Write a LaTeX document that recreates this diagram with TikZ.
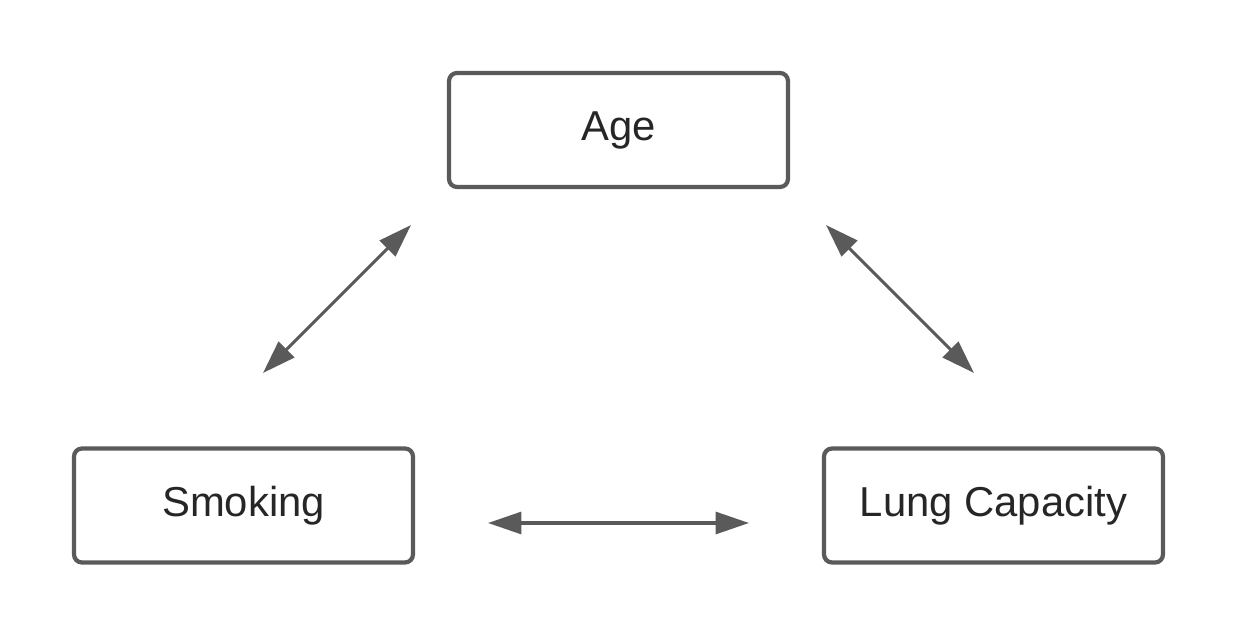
\documentclass[tikz,border=0pt]{standalone}
\usepackage{fontspec}
\setmainfont{Liberation Sans}
\usepackage{tikz}
\usetikzlibrary{arrows.meta, positioning}
\definecolor{boxgray}{RGB}{90,90,90}

\tikzset{
  varbox/.style={rectangle, rounded corners=4.5pt, draw=boxgray, line width=2.4pt,
                 minimum width=6.78cm, minimum height=2.28cm, font=\fontsize{23.8}{27}\selectfont,
                 text=black!85},
  assoc/.style={boxgray, line width=1.8pt,
                {Triangle[length=19pt, width=12.5pt]}-{Triangle[length=19pt, width=12.5pt]}}
}

\begin{document}
\begin{tikzpicture}[x=0.02cm, y=-0.02cm]
  \useasboundingbox (0,0) rectangle (1238,638);
  \node[varbox] (age) at (618.5,130) {Age};
  \node[varbox] (smoking) at (243.5,505.5) {Smoking};
  \node[varbox] (lung) at (993.5,505.5) {Lung Capacity};

  % free arrow ends
  \coordinate (sa) at (263,373);
  \coordinate (as) at (411,225);
  \coordinate (al) at (826,225);
  \coordinate (la) at (974,373);
  \coordinate (sl) at (488,523);
  \coordinate (ls) at (749,523);

  \draw[assoc] (sa) -- (as);
  \draw[assoc] (al) -- (la);
  \draw[assoc] (sl) -- (ls);
\end{tikzpicture}
\end{document}
